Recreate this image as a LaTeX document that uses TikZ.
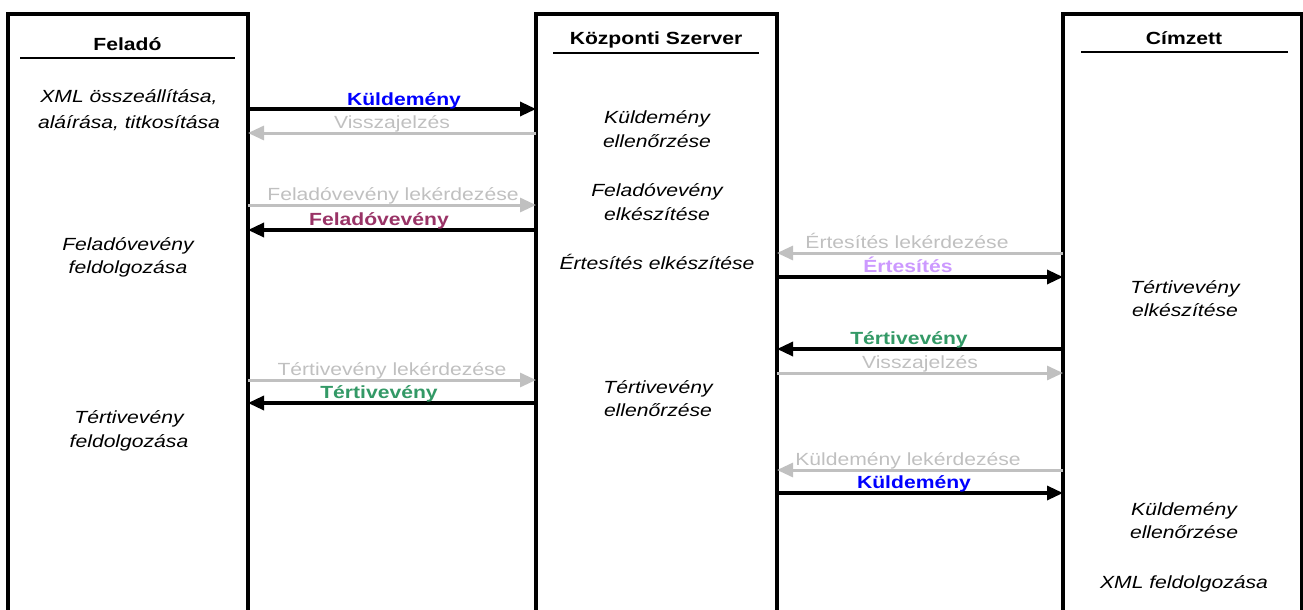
\documentclass[tikz,border=0pt]{standalone}
\usepackage{fontspec}
\setmainfont{Liberation Sans}[FakeStretch=1.2]
\usetikzlibrary{arrows.meta}
\definecolor{kblue}{RGB}{0,0,255}
\definecolor{kmaroon}{RGB}{153,51,102}
\definecolor{kpurple}{RGB}{204,153,255}
\definecolor{kgreen}{RGB}{51,153,102}
\definecolor{kgray}{RGB}{192,192,192}
\begin{document}
\begin{tikzpicture}[x=1pt,y=-1pt,
  txt/.style={inner sep=0pt, anchor=base, font=\fontsize{17.6}{23}\selectfont},
  ttl/.style={txt, font=\fontsize{17.6}{23}\selectfont\bfseries},
  act/.style={txt, font=\fontsize{17.6}{23}\selectfont\itshape},
  lbl/.style={txt, text=kgray},
  blbl/.style={ttl},
  lane/.style={line width=3.3pt, line join=miter},
  hdr/.style={line width=2.3pt},
  msg/.style={line width=3.3pt, -{Triangle[length=16pt,width=14pt]}},
  ack/.style={msg, draw=kgray, line width=3pt}
]
\useasboundingbox (0,0) rectangle (1303,610);

% lane edges
\coordinate (Fl) at (8,0);    \coordinate (Fr) at (248,0);
\coordinate (Sl) at (536,0);  \coordinate (Sr) at (777,0);
\coordinate (Cl) at (1063,0); \coordinate (Cr) at (1301.4,0);
\coordinate (top) at (0,14);  \coordinate (bot) at (0,614);

% lanes (open at the bottom)
\draw[lane] (Fl|-bot) -- (Fl|-top) -- (Fr|-top) -- (Fr|-bot);
\draw[lane] (Sl|-bot) -- (Sl|-top) -- (Sr|-top) -- (Sr|-bot);
\draw[lane] (Cl|-bot) -- (Cl|-top) -- (Cr|-top) -- (Cr|-bot);

% titles
\node[ttl] (tF) at (127.5,51) {Feladó};
\node[ttl] (tS) at (656,45) {Központi Szerver};
\node[ttl] (tC) at (1184,45) {Címzett};
\draw[hdr] (20,58) -- (235,58);
\draw[hdr] (553,53) -- (759,53);
\draw[hdr] (1081,52) -- (1288,52);

% activities: Feladó
\node[act] (a1a) at (129,102) {XML összeállítása,};
\node[act] (a1b) at (129,128) {aláírása, titkosítása};
\node[act] (a2a) at (128,250) {Feladóvevény};
\node[act] (a2b) at (128,273) {feldolgozása};
\node[act] (a3a) at (129,423) {Tértivevény};
\node[act] (a3b) at (129,447) {feldolgozása};
% activities: Központi Szerver
\node[act] (b1a) at (657,123) {Küldemény};
\node[act] (b1b) at (657,147) {ellenőrzése};
\node[act] (b2a) at (657,196) {Feladóvevény};
\node[act] (b2b) at (657,220) {elkészítése};
\node[act] (b3)  at (657,269) {Értesítés elkészítése};
\node[act] (b4a) at (658,393) {Tértivevény};
\node[act] (b4b) at (658,416) {ellenőrzése};
% activities: Címzett
\node[act] (c1a) at (1185,293) {Tértivevény};
\node[act] (c1b) at (1185,316) {elkészítése};
\node[act] (c2a) at (1184,515) {Küldemény};
\node[act] (c2b) at (1184,538) {ellenőrzése};
\node[act] (c3)  at (1184,588) {XML feldolgozása};

% message rows
\coordinate (r1) at (0,109); \coordinate (r2) at (0,133);
\coordinate (r3) at (0,205); \coordinate (r4) at (0,230);
\coordinate (r5) at (0,380); \coordinate (r6) at (0,403);
\coordinate (q1) at (0,253); \coordinate (q2) at (0,277);
\coordinate (q3) at (0,349); \coordinate (q4) at (0,373);
\coordinate (q5) at (0,470); \coordinate (q6) at (0,493);

% Feladó <-> Központi Szerver
\draw[msg] (Fr|-r1) -- (Sl|-r1);
\draw[ack] (Sl|-r2) -- (Fr|-r2);
\draw[ack] (Fr|-r3) -- (Sl|-r3);
\draw[msg] (Sl|-r4) -- (Fr|-r4);
\draw[ack] (Fr|-r5) -- (Sl|-r5);
\draw[msg] (Sl|-r6) -- (Fr|-r6);
\node[blbl, text=kblue]   (l1) at (404,105) {Küldemény};
\node[lbl]                (l2) at (392,128) {Visszajelzés};
\node[lbl]                (l3) at (393,200) {Feladóvevény lekérdezése};
\node[blbl, text=kmaroon] (l4) at (379,225) {Feladóvevény};
\node[lbl]                (l5) at (392,375) {Tértivevény lekérdezése};
\node[blbl, text=kgreen]  (l6) at (379,398) {Tértivevény};

% Központi Szerver <-> Címzett
\draw[ack] (Cl|-q1) -- (Sr|-q1);
\draw[msg] (Sr|-q2) -- (Cl|-q2);
\draw[msg] (Cl|-q3) -- (Sr|-q3);
\draw[ack] (Sr|-q4) -- (Cl|-q4);
\draw[ack] (Cl|-q5) -- (Sr|-q5);
\draw[msg] (Sr|-q6) -- (Cl|-q6);
\node[lbl]                (m1) at (907,248) {Értesítés lekérdezése};
\node[blbl, text=kpurple] (m2) at (908,272) {Értesítés};
\node[blbl, text=kgreen]  (m3) at (909,344) {Tértivevény};
\node[lbl]                (m4) at (920,368) {Visszajelzés};
\node[lbl]                (m5) at (908,465) {Küldemény lekérdezése};
\node[blbl, text=kblue]   (m6) at (914,488) {Küldemény};
\end{tikzpicture}
\end{document}
